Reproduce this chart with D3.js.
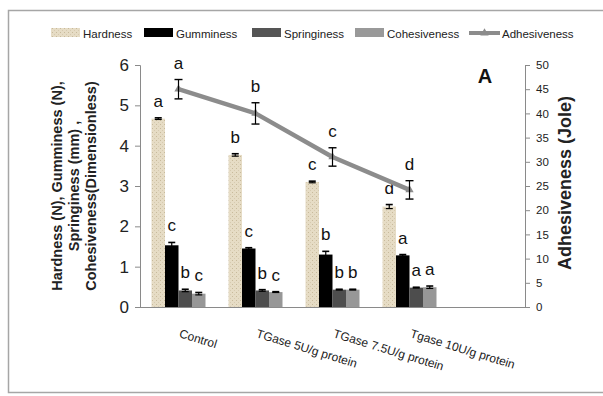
<!DOCTYPE html>
<html>
<head>
<meta charset="utf-8">
<script src="https://cdn.jsdelivr.net/npm/d3@7"></script>
<style>
  body { margin: 0; background: #fff; }
  svg text { font-family: "Liberation Sans", Arial, sans-serif; }
</style>
</head>
<body>
<div id="chart"></div>
<script>
// categories (last one is empty, the chart keeps a blank slot on the right)
var categories = ["Control", "TGase 5U/g protein", "TGase 7.5U/g protein", "Tgase 10U/g protein", ""];
var series = ["Hardness", "Gumminess", "Springiness", "Cohesiveness"];

var hardness = [4.67, 3.77, 3.10, 2.49];
var gumminess = [1.53, 1.45, 1.30, 1.28];
var springiness = [0.41, 0.41, 0.43, 0.48];
var cohesiveness = [0.33, 0.37, 0.43, 0.49];
var adhesiveness = [45.0, 40.0, 31.0, 24.2];

var hardnessErr = [0.02, 0.03, 0.02, 0.05];
var gumminessErr = [0.07, 0.02, 0.08, 0.02];
var springinessErr = [0.03, 0.02, 0.01, 0.01];
var cohesivenessErr = [0.03, 0.01, 0.01, 0.03];
var adhesivenessErr = [2.0, 2.2, 1.9, 1.9];

var hardnessLab = ["a", "b", "c", "d"];
var gumminessLab = ["c", "c", "b", "a"];
var springinessLab = ["b", "b", "b", "a"];
var cohesivenessLab = ["c", "c", "b", "a"];
var adhesivenessLab = ["a", "b", "c", "d"];

var leftTicks = [0, 1, 2, 3, 4, 5, 6];
var rightTicks = [0, 5, 10, 15, 20, 25, 30, 35, 40, 45, 50];

var width = 603, height = 396;
var plotLeft = 140, plotRight = 525, plotTop = 65, plotBottom = 307;

var barVals = [hardness, gumminess, springiness, cohesiveness];
var barErrs = [hardnessErr, gumminessErr, springinessErr, cohesivenessErr];
var barLabs = [hardnessLab, gumminessLab, springinessLab, cohesivenessLab];
var colors = ["url(#beige)", "#000000", "#4d4d4d", "#979797"];
var legendColors = ["url(#beige)", "#000000", "#555555", "#999999"];

var svg = d3.select("#chart").append("svg")
    .attr("width", width)
    .attr("height", height);

var defs = svg.append("defs");
var pat = defs.append("pattern")
    .attr("id", "beige")
    .attr("patternUnits", "userSpaceOnUse")
    .attr("width", 4)
    .attr("height", 4);
pat.append("rect").attr("width", 4).attr("height", 4).attr("fill", "#e6dcc5");
pat.append("rect").attr("x", 0).attr("y", 0).attr("width", 1).attr("height", 1).attr("fill", "#c8ba9b");
pat.append("rect").attr("x", 2).attr("y", 2).attr("width", 1).attr("height", 1).attr("fill", "#d6cab0");

// outer frame (cut off at right and bottom like the source)
svg.append("rect")
    .attr("x", 8.5).attr("y", 10.5)
    .attr("width", 640).attr("height", 382)
    .attr("fill", "none")
    .attr("stroke", "#a6a6a6")
    .attr("stroke-width", 1.5);

var x0 = d3.scaleBand().domain(categories).range([plotLeft, plotRight]);
var bw = x0.bandwidth();
var x1 = d3.scaleBand().domain(series).range([11.5, bw - 11.5]);
var y = d3.scaleLinear().domain([0, 6]).range([plotBottom, plotTop]);
var y2 = d3.scaleLinear().domain([0, 50]).range([plotBottom, plotTop]);

// axes
var yAxis = d3.axisLeft(y).tickValues(leftTicks).tickFormat(d3.format("d")).tickSize(5).tickPadding(6);
var gy = svg.append("g").attr("transform", "translate(" + plotLeft + ",0)").call(yAxis);
gy.select(".domain").attr("stroke", "#8a8a8a");
gy.selectAll(".tick line").attr("stroke", "#8a8a8a");
gy.selectAll(".tick text").attr("font-size", 17).attr("fill", "#222").attr("font-family", null);

var y2Axis = d3.axisRight(y2).tickValues(rightTicks).tickSize(5).tickPadding(6);
var gy2 = svg.append("g").attr("transform", "translate(" + plotRight + ",0)").call(y2Axis);
gy2.select(".domain").attr("stroke", "#8a8a8a");
gy2.selectAll(".tick line").attr("stroke", "#8a8a8a");
gy2.selectAll(".tick text").attr("font-size", 11.5).attr("fill", "#222").attr("font-family", null);

svg.append("line")
    .attr("x1", plotLeft).attr("x2", plotRight)
    .attr("y1", plotBottom + 0.5).attr("y2", plotBottom + 0.5)
    .attr("stroke", "#8a8a8a");

// bars
series.forEach(function(s, si) {
  var g = svg.append("g");
  var rows = categories.slice(0, 4).map(function(c, i) {
    return { c: c, v: barVals[si][i], e: barErrs[si][i], l: barLabs[si][i] };
  });
  g.selectAll("rect").data(rows).enter().append("rect")
      .attr("x", function(d) { return x0(d.c) + x1(s); })
      .attr("y", function(d) { return y(d.v); })
      .attr("width", x1.bandwidth())
      .attr("height", function(d) { return y(0) - y(d.v); })
      .attr("fill", colors[si]);
  var eb = g.selectAll(".eb").data(rows).enter().append("g")
      .attr("transform", function(d) { return "translate(" + (x0(d.c) + x1(s) + x1.bandwidth() / 2) + ",0)"; });
  eb.append("line").attr("y1", function(d) { return y(d.v + d.e); }).attr("y2", function(d) { return y(d.v - d.e); })
      .attr("stroke", "#000").attr("stroke-width", 1.2);
  eb.append("line").attr("x1", -3.5).attr("x2", 3.5)
      .attr("y1", function(d) { return y(d.v + d.e); }).attr("y2", function(d) { return y(d.v + d.e); })
      .attr("stroke", "#000").attr("stroke-width", 1.6);
  eb.append("line").attr("x1", -3.5).attr("x2", 3.5)
      .attr("y1", function(d) { return y(d.v - d.e); }).attr("y2", function(d) { return y(d.v - d.e); })
      .attr("stroke", "#000").attr("stroke-width", 1.2);
  eb.append("text")
      .attr("text-anchor", "middle")
      .attr("y", function(d) { return y(d.v + d.e) - 11; })
      .attr("font-size", 17)
      .attr("fill", "#111")
      .text(function(d) { return d.l; });
});

// adhesiveness line
var pts = categories.slice(0, 4).map(function(c, i) {
  return { x: x0(c) + bw / 2, v: adhesiveness[i], e: adhesivenessErr[i], l: adhesivenessLab[i] };
});
svg.append("path")
    .datum(pts)
    .attr("d", d3.line().x(function(d) { return d.x; }).y(function(d) { return y2(d.v); }))
    .attr("fill", "none")
    .attr("stroke", "#8c8c8c")
    .attr("stroke-width", 4.5)
    .attr("stroke-linejoin", "round");
var lg = svg.selectAll(".adh").data(pts).enter().append("g")
    .attr("transform", function(d) { return "translate(" + d.x + ",0)"; });
lg.append("path")
    .attr("transform", function(d) { return "translate(0," + y2(d.v) + ")"; })
    .attr("d", d3.symbol().type(d3.symbolTriangle).size(30))
    .attr("fill", "#8c8c8c");
lg.append("line").attr("y1", function(d) { return y2(d.v + d.e); }).attr("y2", function(d) { return y2(d.v - d.e); })
    .attr("stroke", "#000").attr("stroke-width", 1.2);
lg.selectAll(".cap").data(function(d) { return [d.v + d.e, d.v - d.e]; }).enter().append("line")
    .attr("x1", -4).attr("x2", 4)
    .attr("y1", function(v) { return y2(v); }).attr("y2", function(v) { return y2(v); })
    .attr("stroke", "#000").attr("stroke-width", 1.4);
lg.append("text")
    .attr("text-anchor", "middle")
    .attr("y", function(d) { return y2(d.v + d.e) - 11; })
    .attr("font-size", 17)
    .attr("fill", "#111")
    .text(function(d) { return d.l; });

// category labels
svg.selectAll(".cat").data(categories.slice(0, 4)).enter().append("text")
    .attr("transform", function(c) { return "translate(" + (x0(c) + bw / 2) + ",337) rotate(17)"; })
    .attr("font-size", 12)
    .attr("fill", "#222")
    .text(function(c) { return c; });

// axis titles
var lt = svg.append("text")
    .attr("transform", "translate(0,186) rotate(-90)")
    .attr("text-anchor", "middle")
    .attr("font-weight", "bold")
    .attr("font-size", 14.5)
    .attr("fill", "#222");
lt.append("tspan").attr("x", 0).attr("y", 62).text("Hardness (N), Gumminess (N),");
lt.append("tspan").attr("x", 0).attr("y", 79).text("Springiness (mm) ,");
lt.append("tspan").attr("x", 0).attr("y", 96).text("Cohesiveness(Dimensionless)");

svg.append("text")
    .attr("transform", "translate(571,183) rotate(-90)")
    .attr("text-anchor", "middle")
    .attr("font-weight", "bold")
    .attr("font-size", 18)
    .attr("fill", "#222")
    .text("Adhesiveness (Jole)");

svg.append("text")
    .attr("x", 485).attr("y", 83)
    .attr("text-anchor", "middle")
    .attr("font-weight", "bold")
    .attr("font-size", 20)
    .attr("fill", "#111")
    .text("A");

// legend
var legendX = [51, 144, 252, 355];
var leg = svg.append("g");
series.forEach(function(s, i) {
  leg.append("rect").attr("x", legendX[i]).attr("y", 28).attr("width", 29).attr("height", 9).attr("fill", legendColors[i]);
  leg.append("text").attr("x", legendX[i] + 32).attr("y", 37.5).attr("font-size", 11.5).attr("fill", "#222").text(s);
});
leg.append("line").attr("x1", 469).attr("x2", 500).attr("y1", 33).attr("y2", 33)
    .attr("stroke", "#8c8c8c").attr("stroke-width", 4);
leg.append("path").attr("transform", "translate(484.5,33)")
    .attr("d", d3.symbol().type(d3.symbolTriangle).size(30)).attr("fill", "#8c8c8c");
leg.append("text").attr("x", 502).attr("y", 37.5).attr("font-size", 11.5).attr("fill", "#222").text("Adhesiveness");
</script>
</body>
</html>
